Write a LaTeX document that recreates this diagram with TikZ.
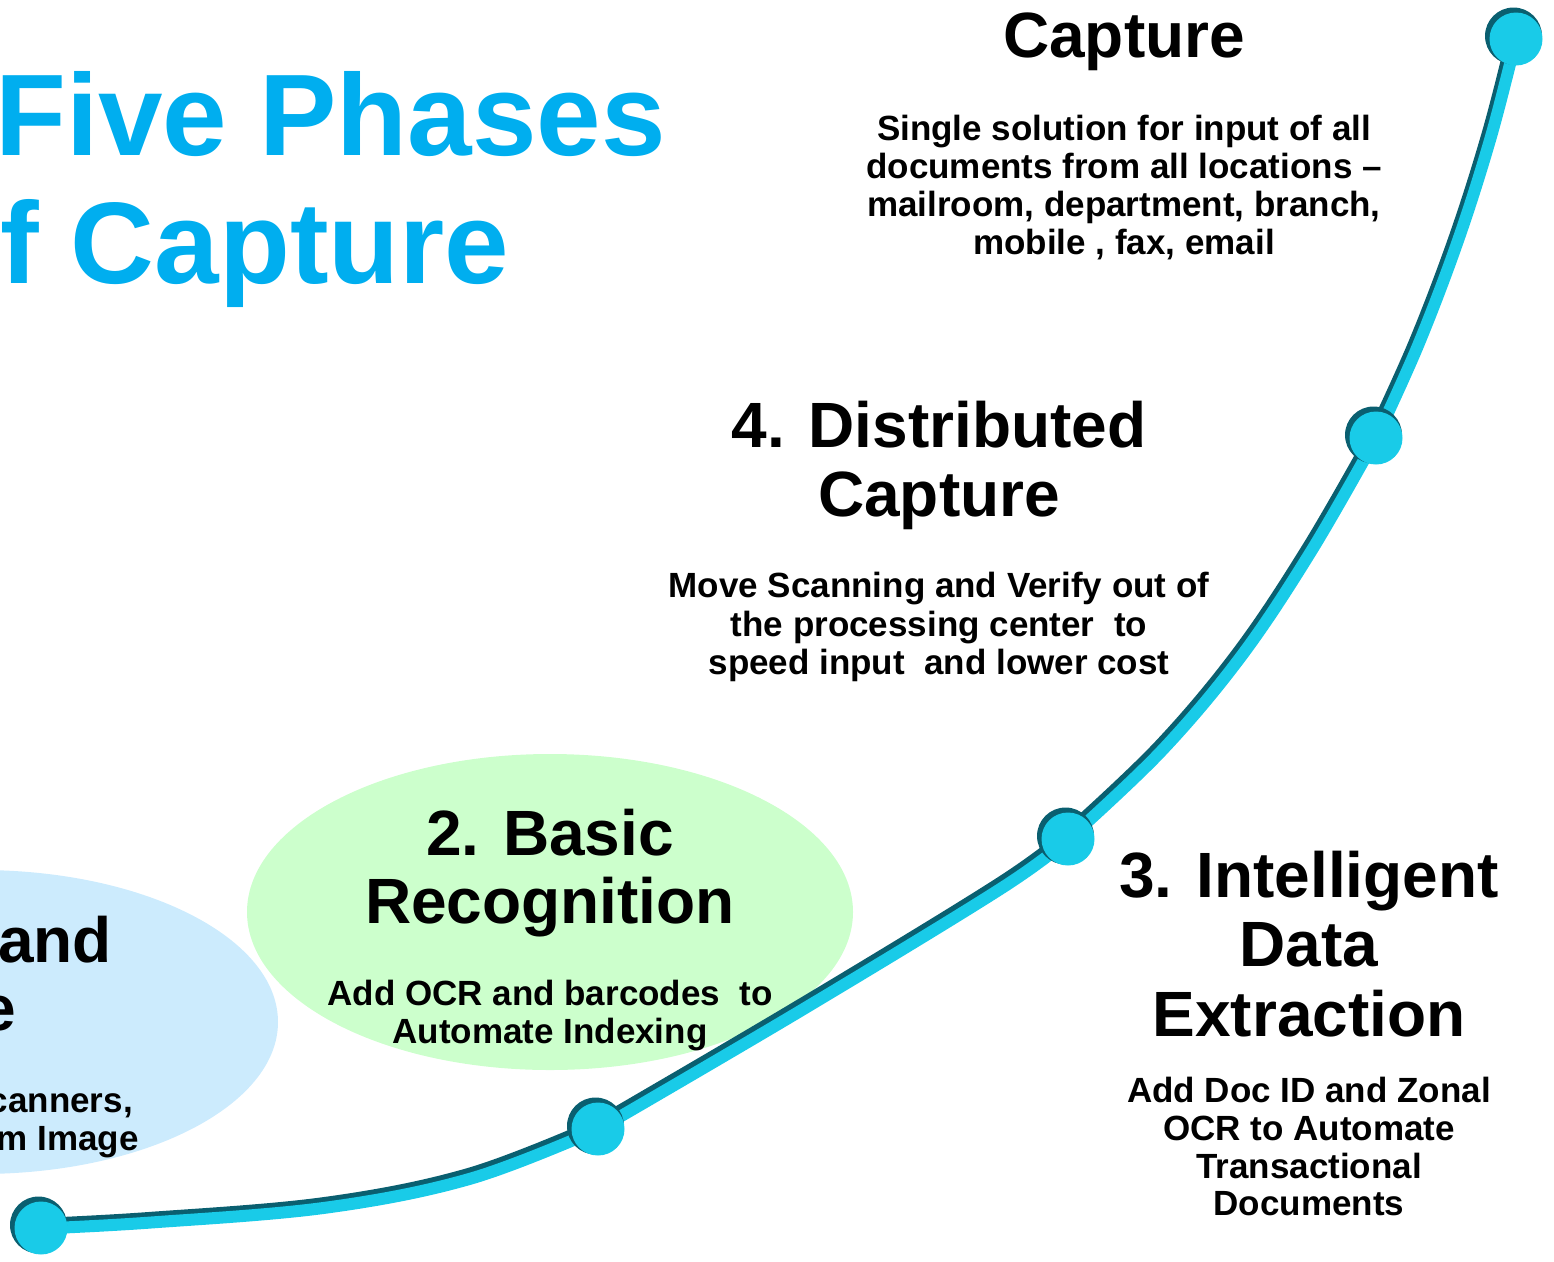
\documentclass[tikz,border=0pt]{standalone}
\usepackage{fontspec}
\setmainfont{Liberation Sans}
\definecolor{titlecyan}{HTML}{00AEEF}
\definecolor{ballcyan}{HTML}{19CBE8}
\definecolor{balldark}{HTML}{0A5F70}
\definecolor{blueell}{HTML}{CCEBFD}
\definecolor{greenell}{HTML}{CCFFCC}
\tikzset{
  head/.style={font=\fontsize{64}{70}\selectfont\bfseries, anchor=base, inner sep=0pt},
  body/.style={font=\fontsize{35}{38}\selectfont\bfseries, anchor=base, inner sep=0pt},
  ttl/.style={font=\fontsize{116}{128}\selectfont\bfseries, text=titlecyan, anchor=base west, inner sep=0pt},
}
\def\curvepath{plot[smooth, tension=0.6] coordinates {(40,1227) (150,1221) (326,1206) (470,1177) (597,1128)}
  plot[smooth, tension=0.6] coordinates {(597,1128) (800,1009) (1000,887) (1067,838)}
  plot[smooth, tension=0.6] coordinates {(1067,838) (1160,750) (1240,655) (1310,550) (1375,437)}
  plot[smooth, tension=0.6] coordinates {(1375,437) (1417,344) (1457,239) (1490,135) (1515,38)}}
\begin{document}
\begin{tikzpicture}[x=1pt,y=-1pt]
\useasboundingbox (0,0) rectangle (1554,1261);
\clip (0,0) rectangle (1554,1261);
% ellipses
\fill[blueell] (-20,1022) ellipse [x radius=298, y radius=152];
\fill[greenell] (550,912) ellipse [x radius=303, y radius=158];
% title
\node[ttl] (t1) at (-5,155) {Five Phases};
\node[ttl] (t2) at (0,283) {f Capture};
% phase 1 (partial)
\node[head, anchor=base east] (p1a) at (112,962) {and};
\node[head, anchor=base east] (p1b) at (16,1030) {e};
\node[body, anchor=base east] (p1c) at (133,1112) {canners,};
\node[body, anchor=base east] (p1d) at (139,1150) {m Image};
% phase 2
\node[head] (p2a) at (550,855) {2. Basic};
\node[head] (p2b) at (550,923) {Recognition};
\node[body] (p2c) at (550,1005) {Add OCR and barcodes\ \ to};
\node[body] (p2d) at (550,1043) {Automate Indexing};
% phase 3
\node[head] (p3a) at (1309,897) {3. Intelligent};
\node[head] (p3b) at (1309,966) {Data};
\node[head] (p3c) at (1309,1036) {Extraction};
\node[body] (p3d) at (1309,1102) {Add Doc ID and Zonal};
\node[body] (p3e) at (1309,1140) {OCR to Automate};
\node[body] (p3f) at (1309,1178) {Transactional};
\node[body] (p3g) at (1309,1215) {Documents};
% phase 4
\node[head] (p4a) at (939,447) {4. Distributed};
\node[head] (p4b) at (939,516) {Capture};
\node[body] (p4c) at (939,597) {Move Scanning and Verify out of};
\node[body] (p4d) at (939,636) {the processing center\ \ to};
\node[body] (p4e) at (939,674) {speed input\ \ and lower cost};
% phase 5
\node[head] (p5a) at (1124,57) {Capture};
\node[body] (p5b) at (1124,140) {Single solution for input of all};
\node[body] (p5c) at (1124,178) {documents from all locations --};
\node[body] (p5d) at (1124,216) {mailroom, department, branch,};
\node[body] (p5e) at (1124,254) {mobile , fax, email};
% curve: dark upper edge, cyan body
\begin{scope}[shift={(-1.5,-2.5)}]
\draw[balldark, line width=13pt, line cap=round, line join=round] \curvepath;
\end{scope}
\begin{scope}[shift={(1,1.5)}]
\draw[ballcyan, line width=12pt, line cap=round, line join=round] \curvepath;
\end{scope}
% balls
\foreach \n/\x/\y in {b1/40/1227, b2/597/1128, b3/1067/838, b4/1375/437, b5/1515/38}{
  \fill[balldark] (\x-1.5,\y-2) circle [radius=28.5];
  \fill[ballcyan] (\x+1,\y+1) circle [radius=26.5];
  \coordinate (\n) at (\x,\y);
}
\end{tikzpicture}
\end{document}
